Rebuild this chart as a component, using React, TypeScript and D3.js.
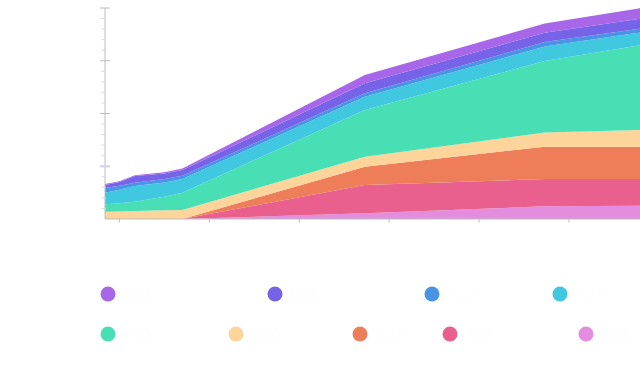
import React from "react";
import * as d3 from "d3";

// series, top of stack first (same order as the legend)
const seriesNames = ["Set 1", "Set 2", "Set 3", "Set 4", "Set 5", "Set 6", "Set 7", "Set 8", "Set 9"];
const seriesColors = ["#a866e8", "#7763e8", "#4a94e6", "#40c8e0", "#48dfb5", "#fdd59b", "#ee7d5a", "#e9608f", "#e48ddf"];

// x positions (decimal years)
const years = [2009.84, 2010.0, 2010.17, 2010.5, 2010.7, 2012.73, 2014.73, 2015.79];

// values per series, aligned with years
const s1 = [1.0, 0.8, 0.8, 1.0, 1.5, 7.9, 8.8, 9.9];
const s2 = [2.8, 3.5, 6.3, 5.4, 5.4, 9.5, 8.8, 9.5];
const s3 = [4.5, 3.8, 3.1, 3.1, 3.1, 3.2, 4.2, 3.6];
const s4 = [11.0, 12.9, 14.9, 13.6, 13.0, 12.6, 13.7, 12.1];
const s5 = [7.0, 7.9, 8.8, 12.9, 16.4, 44.3, 67.8, 80.3];
const s6 = [6.9, 7.0, 7.6, 8.2, 8.5, 9.5, 13.5, 15.8];
const s7 = [0, 0, 0, 0, 0, 17.3, 30.6, 30.6];
const s8 = [0, 0, 0, 0, 0, 26.8, 25.9, 25.3];
const s9 = [0, 0, 0, 0, 0, 5.4, 12.0, 12.6];

const yTicks = [0, 50, 100, 150, 200];

// legend layout: [x, y] of each dot
const legendPos = [
  [108, 294], [275, 294], [432, 294], [560, 294],
  [108, 334], [236, 334], [360, 334], [450, 334], [586, 334],
];

const W = 640;
const H = 370;

export default function App() {
  const allSeries = [s1, s2, s3, s4, s5, s6, s7, s8, s9];
  const rows = years.map((yr, i) => {
    const r: any = { year: yr };
    seriesNames.forEach((n, k) => (r[n] = allSeries[k][i]));
    return r;
  });

  // stack bottom-up: last series at the bottom
  const keys = [...seriesNames].reverse();
  const stacked = d3.stack().keys(keys)(rows);

  const x = d3.scaleLinear().domain([years[0], years[years.length - 1]]).range([105, 640]);
  const y = d3.scaleLinear().domain([0, 200]).range([219, 8]);

  const area = d3
    .area<any>()
    .x((d) => x(d.data.year))
    .y0((d) => y(d[0]))
    .y1((d) => y(d[1]));

  const xTicks = x.ticks(6);
  const minor = d3.range(0, 201, 10).filter((v) => v % 50 !== 0);

  return (
    <svg
      width={W}
      height={H}
      style={{ position: "absolute", left: 0, top: 0, fontFamily: "Roboto, sans-serif" }}
    >
      <g>
        {stacked.map((layer) => {
          const idx = seriesNames.indexOf(layer.key);
          return <path key={layer.key} d={area(layer) || ""} fill={seriesColors[idx]} />;
        })}
      </g>

      {/* y axis */}
      <g>
        <line x1={105} x2={105} y1={y(200)} y2={y(0)} stroke="#bdbdbd" />
        {minor.map((v) => (
          <line key={v} x1={101.5} x2={106} y1={y(v)} y2={y(v)} stroke="#d9d3e8" />
        ))}
        {yTicks.filter((v) => v > 0).map((v) => (
          <line
            key={v}
            x1={100}
            x2={110}
            y1={y(v)}
            y2={y(v)}
            stroke={v === 50 ? "#ddd4f2" : "#bdbdbd"}
            strokeWidth={v === 50 ? 2.5 : 1}
          />
        ))}
        {yTicks.map((v) => (
          <text key={"t" + v} x={94} y={y(v)} dy="0.32em" textAnchor="end" fontSize={11} fill="#ffffff">
            {v}
          </text>
        ))}
      </g>

      {/* x axis */}
      <g>
        <line x1={105} x2={W} y1={y(0)} y2={y(0)} stroke="#bdbdbd" />
        {xTicks.map((t) => (
          <g key={t}>
            <line x1={x(t)} x2={x(t)} y1={y(0)} y2={y(0) + 3.5} stroke="#bdbdbd" />
            <text x={x(t)} y={y(0) + 16} textAnchor="middle" fontSize={11} fill="#ffffff">
              {d3.format("d")(t)}
            </text>
          </g>
        ))}
      </g>

      {/* legend */}
      <g>
        {seriesNames.map((n, i) => (
          <g key={n} transform={`translate(${legendPos[i][0]},${legendPos[i][1]})`}>
            <circle r={7.5} fill={seriesColors[i]} />
            <text x={16} dy="0.35em" fontSize={12} fill="#fefefe">
              {n}
            </text>
          </g>
        ))}
      </g>
    </svg>
  );
}
